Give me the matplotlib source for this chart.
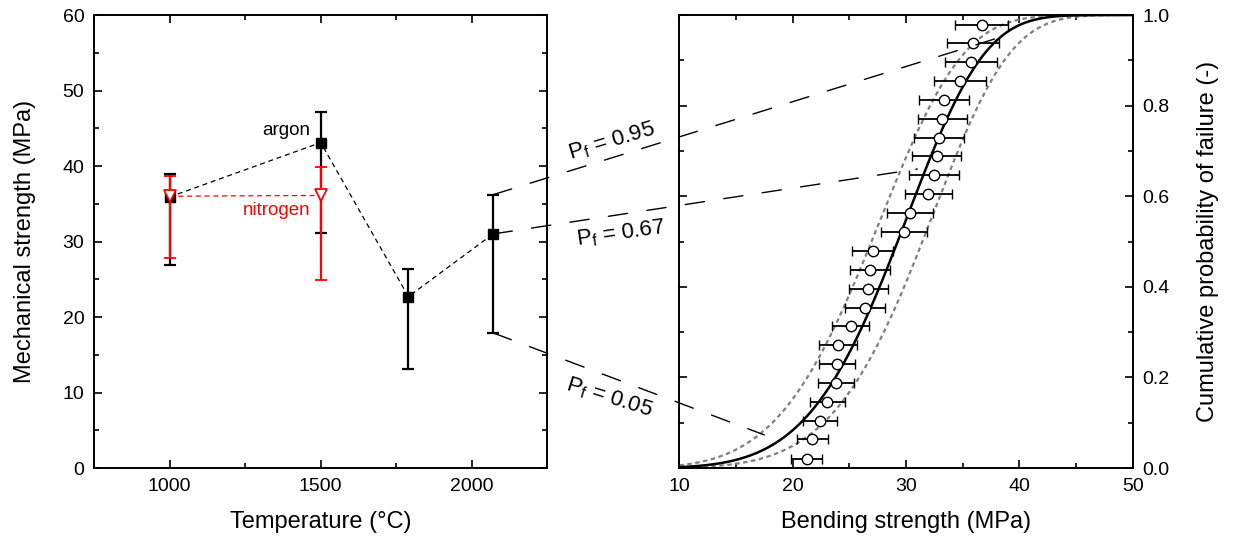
import numpy as np
import matplotlib
matplotlib.use("Agg")
import matplotlib.pyplot as plt
from matplotlib.patches import ConnectionPatch
from matplotlib.ticker import MultipleLocator

plt.rcParams["font.family"] = ["Liberation Sans", "DejaVu Sans"]
plt.rcParams["mathtext.fontset"] = "custom"
plt.rcParams["mathtext.rm"] = "Liberation Sans"
plt.rcParams["mathtext.it"] = "Liberation Sans:italic"

# left panel: strength vs. sintering temperature
temps_argon = [1000, 1500, 1790, 2070]
strength_argon = [35.9, 43.1, 22.7, 31.0]
argon_low = [26.9, 31.1, 13.1, 17.9]
argon_high = [38.9, 47.2, 26.4, 36.2]

temps_nitrogen = [1000, 1500]
strength_nitrogen = [36.0, 36.1]
nitrogen_low = [27.8, 24.9]
nitrogen_high = [38.7, 39.9]

# right panel: bending strength distribution
bending_strength = [21.26, 21.73, 22.41, 23.05, 23.82, 23.9, 24.0, 25.12,
                    26.38, 26.67, 26.82, 27.06, 29.82, 30.35, 31.96, 32.47,
                    32.70, 32.93, 33.20, 33.37, 34.76, 35.73, 35.93, 36.67]
bending_err = [1.37, 1.39, 1.47, 1.54, 1.59, 1.61, 1.65, 1.65,
               1.73, 1.73, 1.76, 1.79, 1.99, 1.99, 2.09, 2.21,
               2.14, 2.19, 2.16, 2.21, 2.28, 2.31, 2.32, 2.34]
prob_failure = [0.021, 0.063, 0.104, 0.146, 0.188, 0.229, 0.271, 0.313,
                0.354, 0.396, 0.438, 0.479, 0.521, 0.563, 0.604, 0.646,
                0.688, 0.729, 0.771, 0.813, 0.854, 0.896, 0.938, 0.979]

# Weibull fit (modulus, characteristic strength) and its bounds
weibull_fit = (5.45, 31.3)
weibull_low = (4.8, 29.1)
weibull_high = (5.8, 33.5)

# Pf connectors: (label, point in left panel, point in right panel)
pf_labels = ["0.95", "0.67", "0.05"]
pf_left = [(2070, 36.2), (2070, 31.0), (2070, 17.9)]
pf_right = [(38.2, 0.95), (31.0, 0.66), (17.5, 0.073)]


def weibull_cdf(x, m, s0):
    return 1 - np.exp(-(x / s0) ** m)


fig = plt.figure(figsize=(12.35, 5.4), dpi=100)
ax1 = fig.add_axes([0.0761, 0.1333, 0.3672, 0.8389])
ax2 = fig.add_axes([0.5501, 0.1333, 0.3670, 0.8389])

# ---- left panel
a = np.array(strength_argon)
ax1.plot(temps_argon, strength_argon, color="black", lw=0.9, ls=(0, (4, 3)), zorder=2)
ax1.errorbar(temps_argon, strength_argon,
             yerr=[a - np.array(argon_low), np.array(argon_high) - a],
             fmt="s", color="black", ms=7, capsize=4.5, elinewidth=1.6,
             capthick=1.6, zorder=3)

n = np.array(strength_nitrogen)
ax1.plot(temps_nitrogen, strength_nitrogen, color="red", lw=0.9, ls=(0, (4, 3)), zorder=4)
ax1.errorbar(temps_nitrogen, strength_nitrogen,
             yerr=[n - np.array(nitrogen_low), np.array(nitrogen_high) - n],
             fmt="v", mfc="white", mec="red", mew=1.3, ecolor="red", ms=9,
             capsize=4.5, elinewidth=1.6, capthick=1.6, zorder=5)

ax1.text(1465, 44.1, "argon", ha="right", va="baseline", fontsize=13.5)
ax1.text(1465, 33.5, "nitrogen", ha="right", va="baseline", fontsize=13.5, color="red")

ax1.set_xlim(750, 2250)
ax1.set_ylim(0, 60)
ax1.xaxis.set_major_locator(MultipleLocator(500))
ax1.xaxis.set_minor_locator(MultipleLocator(250))
ax1.yaxis.set_major_locator(MultipleLocator(10))
ax1.yaxis.set_minor_locator(MultipleLocator(5))
ax1.set_xlabel("Temperature (°C)", fontsize=17, labelpad=12)
ax1.set_ylabel("Mechanical strength (MPa)", fontsize=17, labelpad=19)

# ---- right panel
xs = np.linspace(10, 50, 400)
ax2.plot(xs, weibull_cdf(xs, *weibull_low), color="gray", lw=1.6, ls=(0, (2, 1.6)), zorder=2)
ax2.plot(xs, weibull_cdf(xs, *weibull_high), color="gray", lw=1.6, ls=(0, (2, 1.6)), zorder=2)
ax2.plot(xs, weibull_cdf(xs, *weibull_fit), color="black", lw=1.8, zorder=3)
ax2.errorbar(bending_strength, prob_failure, xerr=bending_err, fmt="o",
             mfc="white", mec="black", mew=1.0, ms=7.5, ecolor="black",
             elinewidth=1.3, capsize=3.5, capthick=1.3, zorder=4)

ax2.set_xlim(10, 50)
ax2.set_ylim(0, 1)
ax2.xaxis.set_major_locator(MultipleLocator(10))
ax2.xaxis.set_minor_locator(MultipleLocator(5))
ax2.yaxis.set_major_locator(MultipleLocator(0.2))
ax2.yaxis.set_minor_locator(MultipleLocator(0.1))
ax2.yaxis.set_label_position("right")
ax2.set_xlabel("Bending strength (MPa)", fontsize=17, labelpad=12)
ax2.set_ylabel("Cumulative probability of failure (-)", fontsize=17, labelpad=20)

for ax in (ax1, ax2):
    for sp in ax.spines.values():
        sp.set_linewidth(1.4)
    ax.tick_params(which="both", direction="in", top=True, right=True,
                   width=1.2, labelsize=14, pad=7)
    ax.tick_params(which="major", length=6)
    ax.tick_params(which="minor", length=3.5)
ax2.tick_params(axis="y", which="both", labelleft=False, labelright=True)

# ---- Pf connector lines between the panels
for pa, pb in zip(pf_left, pf_right):
    con = ConnectionPatch(xyA=pa, coordsA=ax1.transData, xyB=pb, coordsB=ax2.transData,
                          arrowstyle="-", color="black", lw=1.0, ls=(0, (14, 14)))
    fig.add_artist(con)

label_pos = [(0.4953, 0.7376, 16.5), (0.5026, 0.5680, 8), (0.4931, 0.2630, -17.5)]
for lab, (fx, fy, rot) in zip(pf_labels, label_pos):
    fig.text(fx, fy, "P$_\\mathrm{f}$ = " + lab, fontsize=16, rotation=rot,
             rotation_mode="anchor", ha="center", va="center")

fig.savefig("out.png", dpi=100)
